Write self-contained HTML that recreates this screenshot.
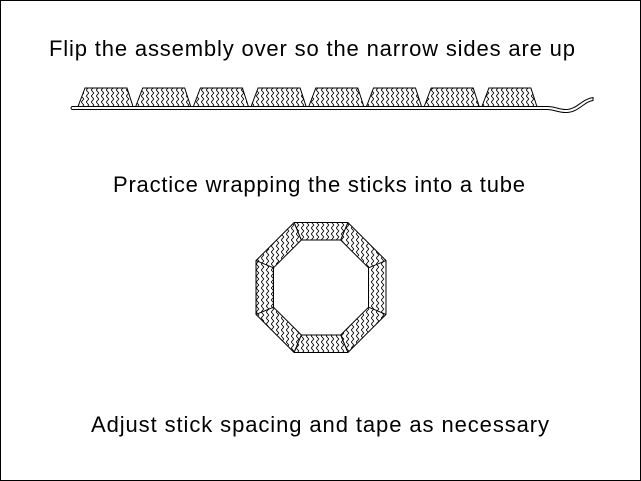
<!DOCTYPE html>
<html>
<head>
<meta charset="utf-8">
<style>
  html, body { margin:0; padding:0; background:#fff; }
  body { width:641px; height:481px; overflow:hidden; }
  svg { display:block; }
  text { font-family: "Liberation Sans", Arial, sans-serif; font-size:22px; fill:#000; }
</style>
</head>
<body>
<svg width="641" height="481" viewBox="0 0 641 481" xmlns="http://www.w3.org/2000/svg">
  <defs>
    <pattern id="zz" patternUnits="userSpaceOnUse" width="5" height="6">
      <rect width="5" height="6" fill="#fff"/>
      <path d="M1.2,0 L3.8,3 L1.2,6" fill="none" stroke="#000" stroke-width="0.85"/>
    </pattern>
  </defs>

  <!-- frame -->
  <rect x="0.5" y="0.5" width="640" height="480" fill="#fff" stroke="#000" stroke-width="1"/>

  <!-- texts -->
  <text x="49" y="56" textLength="526" lengthAdjust="spacing">Flip the assembly over so the narrow sides are up</text>
  <text x="113" y="192" textLength="412" lengthAdjust="spacing">Practice wrapping the sticks into a tube</text>
  <text x="91" y="432" textLength="458" lengthAdjust="spacing">Adjust stick spacing and tape as necessary</text>

  <!-- sticks on strip -->
  <g fill="url(#zz)" stroke="#000" stroke-width="1">
    <polygon points="78,106.5 85,88 127,88 133,106.5"/>
    <polygon points="135.7,106.5 142.7,88 184.7,88 190.7,106.5"/>
    <polygon points="193.4,106.5 200.4,88 242.4,88 248.4,106.5"/>
    <polygon points="251.1,106.5 258.1,88 300.1,88 306.1,106.5"/>
    <polygon points="308.8,106.5 315.8,88 357.8,88 363.8,106.5"/>
    <polygon points="366.5,106.5 373.5,88 415.5,88 421.5,106.5"/>
    <polygon points="424.2,106.5 431.2,88 473.2,88 479.2,106.5"/>
    <polygon points="481.9,106.5 488.9,88 530.9,88 536.9,106.5"/>
  </g>

  <!-- tape strip with tail -->
  <path d="M72,106.5 L547,106.5 C556,106.5 559,110 567,109.5 C577,109 582,99 593,97.5 L593,100.5 C584,101.5 579,112 567,112.5 C558,113 555,109.5 547,109.5 L72,109.5 Q70,108 72,106.5 Z"
        fill="#fff" stroke="#000" stroke-width="1"/>

  <!-- octagon tube -->
  <path fill-rule="evenodd" fill="url(#zz)" stroke="#000" stroke-width="1"
        d="M294.1,222.5 L347.9,222.5 L386,260.6 L386,314.4 L347.9,352.5 L294.1,352.5 L256,314.4 L256,260.6 Z
           M301.3,240 L340.7,240 L368.5,267.8 L368.5,307.2 L340.7,335 L301.3,335 L273.5,307.2 L273.5,267.8 Z"/>
  <g stroke="#000" stroke-width="1">
    <line x1="294.1" y1="222.5" x2="301.3" y2="240"/>
    <line x1="347.9" y1="222.5" x2="340.7" y2="240"/>
    <line x1="386" y1="260.6" x2="368.5" y2="267.8"/>
    <line x1="386" y1="314.4" x2="368.5" y2="307.2"/>
    <line x1="347.9" y1="352.5" x2="340.7" y2="335"/>
    <line x1="294.1" y1="352.5" x2="301.3" y2="335"/>
    <line x1="256" y1="314.4" x2="273.5" y2="307.2"/>
    <line x1="256" y1="260.6" x2="273.5" y2="267.8"/>
  </g>
</svg>
</body>
</html>
